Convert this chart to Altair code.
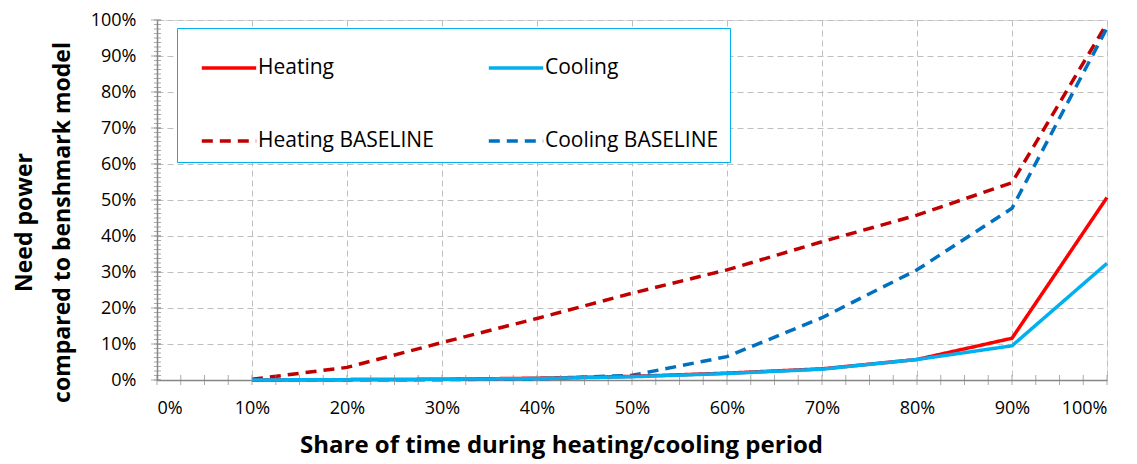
import altair as alt
import pandas as pd
import numpy as np

# ---- data ----
share = [10, 20, 30, 40, 50, 60, 70, 80, 90, 100]
heating = [0.0, 0.1, 0.2, 0.5, 1.0, 1.9, 3.1, 5.7, 11.6, 50.7]
cooling = [0.0, 0.1, 0.2, 0.4, 0.9, 1.8, 3.0, 5.7, 9.5, 32.4]
heating_base = [0.2, 3.5, 10.4, 17.1, 24.1, 30.6, 38.4, 45.8, 54.8, 99.1]
cooling_base = [0.0, 0.1, 0.1, 0.3, 1.3, 6.5, 17.3, 30.6, 47.7, 97.8]

# legend is filled column by column
series_names = ["Heating", "Heating BASELINE", "Cooling", "Cooling BASELINE"]
series_values = [heating, heating_base, cooling, cooling_base]
axis_ticks = [0, 10, 20, 30, 40, 50, 60, 70, 80, 90, 100]

colors = ["#FF0000", "#C00000", "#00B0F0", "#0070C0"]
dashes = [[1, 0], [11, 7], [1, 0], [11, 7]]

rows = []
for name, vals in zip(series_names, series_values):
    for s, v in zip(share, vals):
        rows.append({"share": s, "value": v, "series": name})
df = pd.DataFrame(rows)

FONT = "Open Sans"
GRID = "#BFBFBF"
AX = "#868686"

xscale = alt.Scale(domain=[0, 100], nice=False, zero=True)
yscale = alt.Scale(domain=[0, 100], nice=False, zero=True)

legend = alt.Legend(
    orient="none", legendX=20, legendY=8, columns=2, title=None,
    strokeColor="#00B0F0", fillColor="white",
    symbolType="stroke", symbolSize=2960, symbolStrokeWidth=3.5,
    labelFont=FONT, labelFontSize=21, labelColor="#000000", labelLimit=400,
    padding=11, rowPadding=34, columnPadding=41, symbolOffset=12, labelOffset=0,
)

x_axis = alt.Axis(
    values=axis_ticks, labelExpr="datum.value + '%'", ticks=False,
    grid=True, gridColor=GRID, gridDash=[6, 4], gridWidth=1,
    domainColor=AX, domainWidth=1.5, labelOverlap=False,
    labelFont=FONT, labelFontSize=18, labelColor="#000000", labelPadding=19,
    title="Share of time during heating/cooling period",
    titleFont=FONT, titleFontSize=24, titleFontWeight="bold", titleColor="#000000",
    titleX=404, titleY=65, titleAlign="center", titleBaseline="middle",
)
y_axis = alt.Axis(
    values=axis_ticks, labelExpr="datum.value + '%'", ticks=False,
    grid=True, gridColor=GRID, gridDash=[6, 4], gridWidth=1,
    domainColor=AX, domainWidth=1.5, labelOverlap=False,
    labelFont=FONT, labelFontSize=18, labelColor="#000000", labelPadding=21,
    title=["Need power", "compared to benshmark model"],
    titleFont=FONT, titleFontSize=23, titleFontWeight="bold", titleColor="#000000",
    titleAngle=270, titleX=-133, titleY=202, titleAlign="center",
    titleBaseline="middle", titleLineHeight=38,
)

color_enc = alt.Color("series:N", scale=alt.Scale(domain=series_names, range=colors), legend=legend)
dash_enc = alt.StrokeDash("series:N", scale=alt.Scale(domain=series_names, range=dashes), legend=legend)

base = alt.Chart(df).mark_line(strokeWidth=3.5).encode(
    x=alt.X("share:Q", scale=xscale, axis=x_axis),
    y=alt.Y("value:Q", scale=yscale, axis=y_axis),
    color=color_enc, strokeDash=dash_enc,
)
baselines = base.transform_filter(
    alt.FieldOneOfPredicate(field="series", oneOf=["Heating BASELINE", "Cooling BASELINE"])
)
heat_line = base.transform_filter(alt.FieldEqualPredicate(field="series", equal="Heating"))
cool_line = base.transform_filter(alt.FieldEqualPredicate(field="series", equal="Cooling"))

# axis tick marks (major + minor), drawn on the axes
x_minor = pd.DataFrame({"share": np.arange(0, 100.01, 2.5), "value": 0.0})
y_minor = pd.DataFrame({"value": np.arange(0, 100.01, 1.25), "share": 0.0})
y_major = pd.DataFrame({"value": [float(v) for v in axis_ticks], "share": 0.0})

def tick_layer(data, orient, size, xoff):
    return alt.Chart(data).mark_tick(orient=orient, size=size, thickness=1, color=AX, xOffset=xoff).encode(
        x=alt.X("share:Q", scale=xscale, axis=x_axis),
        y=alt.Y("value:Q", scale=yscale, axis=y_axis),
    )

xt = tick_layer(x_minor, "vertical", 10, 0)
yt_minor = tick_layer(y_minor, "horizontal", 7, 0.5)
yt_major = tick_layer(y_major, "horizontal", 10, -1)

chart = alt.layer(baselines, heat_line, cool_line, xt, yt_minor, yt_major).properties(
    width=950, height=360,
    padding={"left": 5, "top": 3, "right": 5, "bottom": 5},
).configure_view(stroke=None).configure(background="white")

chart.save("out.html", embed_options={"renderer": "svg", "actions": False})
